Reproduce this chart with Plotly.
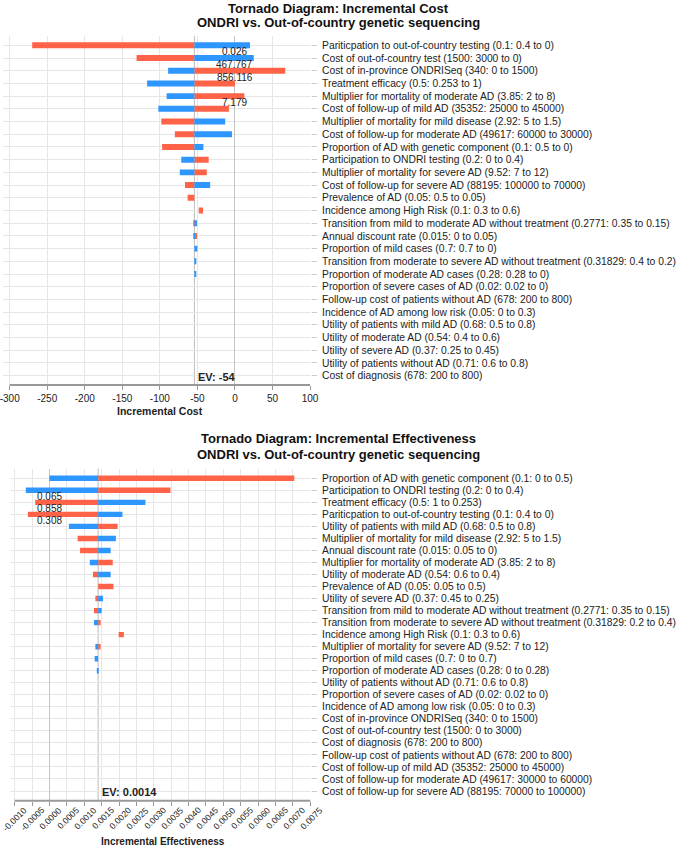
import plotly.graph_objects as go

W, H = 676, 847
FONT = "Liberation Sans, Arial, sans-serif"
RED = "#FF6347"
BLUE = "#2E96FF"

# ---------------- Top chart: Incremental Cost ----------------
cost_title = ["Tornado Diagram: Incremental Cost", "ONDRI vs. Out-of-country genetic sequencing"]
cost_labels = [
    "Pariticpation to out-of-country testing (0.1: 0.4 to 0)",
    "Cost of out-of-country test (1500: 3000 to 0)",
    "Cost of in-province ONDRISeq (340: 0 to 1500)",
    "Treatment efficacy (0.5: 0.253 to 1)",
    "Multiplier for mortality of moderate AD (3.85: 2 to 8)",
    "Cost of follow-up of mild AD (35352: 25000 to 45000)",
    "Multiplier of mortality for mild disease (2.92: 5 to 1.5)",
    "Cost of follow-up for moderate AD (49617: 60000 to 30000)",
    "Proportion of AD with genetic component (0.1: 0.5 to 0)",
    "Participation to ONDRI testing (0.2: 0 to 0.4)",
    "Multiplier of mortality for severe AD (9.52: 7 to 12)",
    "Cost of follow-up for severe AD (88195: 100000 to 70000)",
    "Prevalence of AD (0.05: 0.5 to 0.05)",
    "Incidence among High Risk (0.1: 0.3 to 0.6)",
    "Transition from mild to moderate AD without treatment (0.2771: 0.35 to 0.15)",
    "Annual discount rate (0.015: 0 to 0.05)",
    "Proportion of mild cases (0.7: 0.7 to 0)",
    "Transition from moderate to severe AD without treatment (0.31829: 0.4 to 0.2)",
    "Proportion of moderate AD cases (0.28: 0.28 to 0)",
    "Proportion of severe cases of AD (0.02: 0.02 to 0)",
    "Follow-up cost of patients without AD (678: 200 to 800)",
    "Incidence of AD among low risk (0.05: 0 to 0.3)",
    "Utility of patients with mild AD (0.68: 0.5 to 0.8)",
    "Utility of moderate AD (0.54: 0.4 to 0.6)",
    "Utility of severe AD (0.37: 0.25 to 0.45)",
    "Utility of patients without AD (0.71: 0.6 to 0.8)",
    "Cost of diagnosis (678: 200 to 800)",
]
cost_ev = -54
cost_red = [-270, -131, 67, 0, 12.5, -8, -98, -80, -97, -35, -37.5, -66.5, -63,
            -42.5, -55.5, -50.5, -54, -54, -54, -54, -54, -54, -54, -54, -54, -54, -54]
cost_blue = [20, 25, -89, -117, -91, -102, -13, -4, -42, -71.5, -73.5, -33, -54,
             -48.2, -50.5, -55.5, -50, -52.5, -52.5, -54, -54, -54, -54, -54, -54, -54, -54]
cost_notes_rows = [0, 1, 2, 4]
cost_notes = ["0.026", "467.767", "856.116", "7.179"]
cost_ticks = [-300, -250, -200, -150, -100, -50, 0, 50, 100]
cost_ticktext = ["-300", "-250", "-200", "-150", "-100", "-50", "0", "50", "100"]

# ---------------- Bottom chart: Incremental Effectiveness ----------------
eff_title = ["Tornado Diagram: Incremental Effectiveness", "ONDRI vs. Out-of-country genetic sequencing"]
eff_labels = [
    "Proportion of AD with genetic component (0.1: 0 to 0.5)",
    "Participation to ONDRI testing (0.2: 0 to 0.4)",
    "Treatment efficacy (0.5: 1 to 0.253)",
    "Pariticpation to out-of-country testing (0.1: 0.4 to 0)",
    "Utility of patients with mild AD (0.68: 0.5 to 0.8)",
    "Multiplier of mortality for mild disease (2.92: 5 to 1.5)",
    "Annual discount rate (0.015: 0.05 to 0)",
    "Multiplier for mortality of moderate AD (3.85: 2 to 8)",
    "Utility of moderate AD (0.54: 0.6 to 0.4)",
    "Prevalence of AD (0.05: 0.05 to 0.5)",
    "Utility of severe AD (0.37: 0.45 to 0.25)",
    "Transition from mild to moderate AD without treatment (0.2771: 0.35 to 0.15)",
    "Transition from moderate to severe AD without treatment (0.31829: 0.2 to 0.4)",
    "Incidence among High Risk (0.1: 0.3 to 0.6)",
    "Multiplier of mortality for severe AD (9.52: 7 to 12)",
    "Proportion of mild cases (0.7: 0 to 0.7)",
    "Proportion of moderate AD cases (0.28: 0 to 0.28)",
    "Utility of patients without AD (0.71: 0.6 to 0.8)",
    "Proportion of severe cases of AD (0.02: 0.02 to 0)",
    "Incidence of AD among low risk (0.05: 0 to 0.3)",
    "Cost of in-province ONDRISeq (340: 0 to 1500)",
    "Cost of out-of-country test (1500: 0 to 3000)",
    "Cost of diagnosis (678: 200 to 800)",
    "Follow-up cost of patients without AD (678: 200 to 800)",
    "Cost of follow-up of mild AD (35352: 25000 to 45000)",
    "Cost of follow-up for moderate AD (49617: 30000 to 60000)",
    "Cost of follow-up for severe AD (88195: 70000 to 100000)",
]
eff_ev = 0.0014
eff_red = [0.00704, 0.00348, -0.00041, -0.00062, 0.00196, 0.00081, 0.00088, 0.00182,
           0.00125, 0.00184, 0.00132, 0.00128, 0.00147, 0.00214, 0.00147, 0.0014,
           0.0014, 0.0014, 0.0014, 0.0014, 0.0014, 0.0014, 0.0014, 0.0014, 0.0014,
           0.0014, 0.0014]
eff_blue = [0.0, -0.00068, 0.00276, 0.0021, 0.00056, 0.00191, 0.00176, 0.00116,
            0.00176, 0.0014, 0.00154, 0.0015, 0.00128, 0.00199, 0.00132, 0.0013,
            0.00139, 0.0014, 0.0014, 0.0014, 0.0014, 0.0014, 0.0014, 0.0014, 0.0014,
            0.0014, 0.0014]
eff_notes_rows = [1, 2, 3]
eff_notes = ["0.065", "0.858", "0.308"]
eff_ticks = [i * 0.0005 for i in range(-2, 16)]
eff_ticktext = ["-0.0010", "-0.0005", "0.0000", "0.0005", "0.0010", "0.0015", "0.0020",
                "0.0025", "0.0030", "0.0035", "0.0040", "0.0045", "0.0050", "0.0055",
                "0.0060", "0.0065", "0.0070", "0.0075"]


def segments(ev, red, blue):
    """Return (base, length) lists for red and blue bars."""
    rb, rl, bb, bl = [], [], [], []
    for r, b in zip(red, blue):
        dr, db = r - ev, b - ev
        if dr * db > 0:  # both on same side of EV: bar spans nearer->farther
            if abs(dr) >= abs(db):
                rb.append(b); rl.append(r - b); bb.append(ev); bl.append(0)
            else:
                bb.append(r); bl.append(b - r); rb.append(ev); rl.append(0)
        else:
            rb.append(ev); rl.append(dr); bb.append(ev); bl.append(db)
    return rb, rl, bb, bl


def px2x(px):
    return px / W


def py2y(py):
    return 1 - py / H


fig = go.Figure()

TOP_PLOT = (35.8, 385.0)
BOT_PLOT = (468.5, 800.7)

for ev, red, blue, xa, ya, width in [
    (cost_ev, cost_red, cost_blue, "x", "y", 0.47),
    (eff_ev, eff_red, eff_blue, "x2", "y2", 0.45),
]:
    rb, rl, bb, bl = segments(ev, red, blue)
    ys = list(range(len(red)))
    fig.add_trace(go.Bar(orientation="h", y=ys, x=rl, base=rb, marker_color=RED,
                         marker_line_width=0, width=width, xaxis=xa, yaxis=ya,
                         showlegend=False, hoverinfo="skip"))
    fig.add_trace(go.Bar(orientation="h", y=ys, x=bl, base=bb, marker_color=BLUE,
                         marker_line_width=0, width=width, xaxis=xa, yaxis=ya,
                         showlegend=False, hoverinfo="skip"))

GRID = "#E6E6E6"
AXC = "#999999"
tickfont = dict(family=FONT, size=10, color="#222")
ylabfont = dict(family=FONT, size=10.3, color="#222")

fig.update_layout(
    width=W, height=H, margin=dict(l=0, r=0, t=0, b=0),
    paper_bgcolor="white", plot_bgcolor="white", barmode="overlay",
    font=dict(family=FONT, size=10, color="#222"),
    xaxis=dict(domain=[px2x(3.3), px2x(311)], range=[-308.5, 101.3],
               tickvals=cost_ticks, ticktext=cost_ticktext, showgrid=True,
               gridcolor=GRID, zeroline=True, zerolinecolor="#C4C4C4", zerolinewidth=1,
               ticks="outside", ticklen=4, tickcolor=AXC, tickwidth=1,
               showline=False, anchor="y", tickfont=tickfont, automargin=False,
               ticklabeloverflow="allow"),
    yaxis=dict(domain=[py2y(TOP_PLOT[1]), py2y(TOP_PLOT[0])],
               range=[26 + (385 - 375.7) / 12.71, -(45.3 - 35.8) / 12.71],
               tickvals=list(range(len(cost_labels))), ticktext=cost_labels,
               side="right", anchor="x", showgrid=True, gridcolor=GRID,
               zeroline=False, ticks="outside", ticklen=5, tickcolor="#CCCCCC",
               ticklabelstandoff=3, tickfont=ylabfont, automargin=False,
               ticklabeloverflow="allow"),
    xaxis2=dict(domain=[px2x(9.8), px2x(311)], range=[-0.00114, 0.00752],
                tickvals=eff_ticks, showticklabels=False,
                showgrid=True, gridcolor=GRID, zeroline=True, zerolinecolor="#C4C4C4",
                zerolinewidth=1, ticks="outside", ticklen=4, tickcolor=AXC,
                showline=False, anchor="y2", automargin=False),
    yaxis2=dict(domain=[py2y(BOT_PLOT[1]), py2y(BOT_PLOT[0])],
                range=[26 + (800.7 - 791) / 12.03, -(478.3 - 468.5) / 12.03],
                tickvals=list(range(len(eff_labels))), ticktext=eff_labels,
                side="right", anchor="x2", showgrid=True, gridcolor=GRID,
                zeroline=False, ticks="outside", ticklen=5, tickcolor="#CCCCCC",
                ticklabelstandoff=3, tickfont=ylabfont, automargin=False,
                ticklabeloverflow="allow"),
)

shapes = []
shapes.append(dict(type="line", xref="x", yref="y domain", x0=cost_ev, x1=cost_ev,
                   y0=0, y1=1, line=dict(color="#BDBDBD", width=1), layer="below"))
shapes.append(dict(type="line", xref="x2", yref="y2 domain", x0=eff_ev, x1=eff_ev,
                   y0=0, y1=1, line=dict(color="#BDBDBD", width=1), layer="below"))
shapes.append(dict(type="line", xref="x", yref="y domain", x0=cost_ticks[0], x1=cost_ticks[-1],
                   y0=0, y1=0, line=dict(color=AXC, width=2)))
shapes.append(dict(type="line", xref="x2", yref="y2 domain", x0=eff_ticks[0], x1=eff_ticks[-1],
                   y0=0, y1=0, line=dict(color=AXC, width=2)))
fig.update_layout(shapes=shapes)

ann = []
# rotated tick labels of the effectiveness axis, placed on the axis' own ticks
for v, t in zip(eff_ticks, eff_ticktext):
    ann.append(dict(x=v, y=0, xref="x2", yref="y2 domain", text=t, showarrow=False,
                    textangle=-45, xanchor="right", yanchor="top", xshift=16, yshift=-3,
                    borderpad=0, font=dict(family=FONT, size=8.7, color="#222")))
for r, t in zip(cost_notes_rows, cost_notes):
    ann.append(dict(x=0, y=r + 0.5, xref="x", yref="y", text=t, showarrow=False,
                    font=dict(family=FONT, size=10, color="#222"), xanchor="center",
                    yanchor="middle"))
for r, t in zip(eff_notes_rows, eff_notes):
    ann.append(dict(x=0, y=r + 0.55, xref="x2", yref="y2", text=t, showarrow=False,
                    font=dict(family=FONT, size=10, color="#222"), xanchor="center",
                    yanchor="middle"))
ann.append(dict(x=cost_ev, y=len(cost_labels) - 1 + 0.1, xref="x", yref="y",
                text="<b>EV: -54</b>", showarrow=False, xanchor="left", xshift=2,
                font=dict(family=FONT, size=11, color="#222"), yanchor="middle"))
ann.append(dict(x=eff_ev, y=len(eff_labels) - 1 + 0.05, xref="x2", yref="y2",
                text="<b>EV: 0.0014</b>", showarrow=False, xanchor="left", xshift=2,
                font=dict(family=FONT, size=11, color="#222"), yanchor="middle"))
for txt, yc in zip(cost_title, [8.5, 23]):
    ann.append(dict(x=px2x(338), y=py2y(yc), xref="paper", yref="paper",
                    text="<b>" + txt + "</b>", showarrow=False, xanchor="center",
                    yanchor="middle", font=dict(family=FONT, size=13, color="#111")))
for txt, yc in zip(eff_title, [438.5, 454]):
    ann.append(dict(x=px2x(338), y=py2y(yc), xref="paper", yref="paper",
                    text="<b>" + txt + "</b>", showarrow=False, xanchor="center",
                    yanchor="middle", font=dict(family=FONT, size=13, color="#111")))
ann.append(dict(x=px2x(160), y=py2y(411), xref="paper", yref="paper",
                text="<b>Incremental Cost</b>", showarrow=False, xanchor="center",
                yanchor="middle", font=dict(family=FONT, size=10.5, color="#222")))
ann.append(dict(x=px2x(162.5), y=py2y(841), xref="paper", yref="paper",
                text="<b>Incremental Effectiveness</b>", showarrow=False, xanchor="center",
                yanchor="middle", font=dict(family=FONT, size=10, color="#222")))
fig.update_layout(annotations=ann)

fig.write_html("out.html", config={"displayModeBar": False},
               post_script="document.body.style.margin='0';")
